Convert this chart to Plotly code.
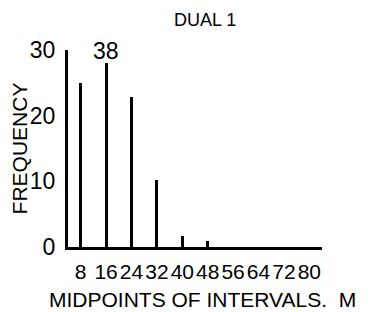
import plotly.graph_objects as go

midpoints = [8, 16, 24, 32, 40, 48, 56, 64, 72, 80]
frequency = [25, 28, 22.8, 10.2, 1.6, 0.9, 0, 0, 0, 0]
tick_labels = ["8", "16", "24", "32", "40", "48", "56", "64", "72", "80"]
y_ticks = [0, 10, 20, 30]
off_scale_label = "38"
off_scale_x = 16

FONT = "Liberation Sans, Arial, Helvetica, sans-serif"

fig = go.Figure()
fig.add_trace(go.Bar(
    x=midpoints, y=frequency, width=0.9,
    marker=dict(color="black", line=dict(width=0)),
))

fig.add_annotation(
    x=off_scale_x, y=frequency[midpoints.index(off_scale_x)],
    text=off_scale_label, showarrow=False, yanchor="bottom", yshift=-3,
    font=dict(family=FONT, size=23, color="black"),
)

# x-axis title as annotation (slightly right of plot centre, as in the original)
fig.add_annotation(
    xref="paper", yref="paper", x=0.531, y=-0.269,
    xanchor="center", yanchor="middle", showarrow=False,
    text="MIDPOINTS OF INTERVALS.  M",
    font=dict(family=FONT, size=21, color="black"),
)

fig.update_layout(
    width=363, height=304,
    margin=dict(l=60, r=49, t=42, b=65, autoexpand=False),
    paper_bgcolor="white", plot_bgcolor="white",
    showlegend=False,
    font=dict(family=FONT, color="black"),
    title=dict(text="DUAL 1", x=0.543, xanchor="center", xref="container",
               y=0.962, yanchor="middle", yref="container",
               font=dict(family=FONT, size=18, color="black")),
    bargap=0,
)

fig.update_xaxes(
    range=[4, 84], tickvals=midpoints, ticktext=tick_labels, tickangle=0,
    showgrid=False, zeroline=False, automargin=False,
    showline=True, linecolor="black", linewidth=3,
    ticks="outside", ticklen=4, tickcolor="rgba(0,0,0,0)",
    tickfont=dict(family=FONT, size=21, color="black"),
)
fig.update_yaxes(
    range=[0, 30], tickvals=y_ticks, showgrid=False, zeroline=False, automargin=False,
    showline=True, linecolor="black", linewidth=3,
    ticks="", ticklabelstandoff=5,
    tickfont=dict(family=FONT, size=23, color="black"),
    title=dict(text="FREQUENCY", standoff=6,
               font=dict(family=FONT, size=21, color="black")),
)

fig.write_html("out.html")
